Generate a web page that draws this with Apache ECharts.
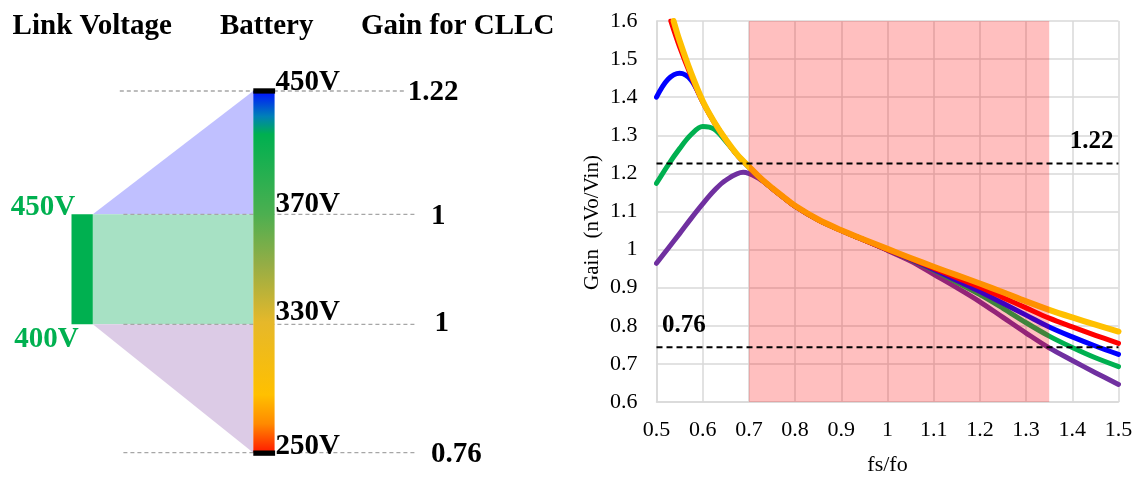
<!DOCTYPE html>
<html>
<head>
<meta charset="utf-8">
<script src="https://cdn.jsdelivr.net/npm/echarts@6/dist/echarts.min.js"></script>
<style>
html,body{margin:0;padding:0;background:#fff;}
#chart{width:1136px;height:481px;}
</style>
</head>
<body>
<div id="chart"></div>
<script>
// ---------- Left schematic: text data ----------
const headings = ['Link Voltage', 'Battery', 'Gain for CLLC'];
const linkVoltages = ['450V', '400V'];
const batteryVoltages = ['450V', '370V', '330V', '250V'];
const cllcGains = ['1.22', '1', '1', '0.76'];

// ---------- Right chart: data ----------
const xTicks = ['0.5','0.6','0.7','0.8','0.9','1','1.1','1.2','1.3','1.4','1.5'];
const yTicks = ['0.6','0.7','0.8','0.9','1','1.1','1.2','1.3','1.4','1.5','1.6'];
const shadeRange = [0.7, 1.35];
const upperGainLine = 1.226;
const lowerGainLine = 0.744;
const upperGainLabel = '1.22';
const lowerGainLabel = '0.76';

const purpleGain = [[0.5,0.964],[0.525,1.003],[0.55,1.042],[0.575,1.082],[0.6,1.12],[0.625,1.155],[0.65,1.182],[0.6875,1.203],[0.725,1.184],[0.75,1.161],[0.775,1.137],[0.8,1.114],[0.85,1.078],[0.9,1.05],[0.95,1.025],[1.0,0.998],[1.05,0.97],[1.1,0.935],[1.15,0.9],[1.2,0.863],[1.25,0.822],[1.3,0.781],[1.35,0.742],[1.4,0.709],[1.45,0.677],[1.5,0.646]];
const greenGain = [[0.5,1.174],[0.525,1.222],[0.55,1.265],[0.575,1.302],[0.6,1.323],[0.625,1.316],[0.65,1.284],[0.675,1.248],[0.7,1.217],[0.725,1.187],[0.75,1.161],[0.775,1.137],[0.8,1.114],[0.85,1.078],[0.9,1.05],[0.95,1.025],[1.0,1.0],[1.05,0.974],[1.1,0.946],[1.15,0.914],[1.2,0.882],[1.25,0.846],[1.3,0.808],[1.35,0.773],[1.4,0.743],[1.45,0.716],[1.5,0.693]];
const blueGain = [[0.5,1.4],[0.525,1.447],[0.55,1.463],[0.575,1.445],[0.6,1.388],[0.625,1.334],[0.65,1.288],[0.675,1.248],[0.7,1.217],[0.725,1.187],[0.75,1.161],[0.775,1.137],[0.8,1.114],[0.85,1.078],[0.9,1.05],[0.95,1.025],[1.0,1.0],[1.05,0.975],[1.1,0.948],[1.15,0.919],[1.2,0.89],[1.25,0.859],[1.3,0.828],[1.35,0.797],[1.4,0.771],[1.45,0.747],[1.5,0.725]];
const redGain = [[0.531,1.6],[0.55,1.532],[0.575,1.455],[0.6,1.388],[0.625,1.334],[0.65,1.288],[0.675,1.248],[0.7,1.217],[0.725,1.187],[0.75,1.161],[0.775,1.137],[0.8,1.114],[0.85,1.078],[0.9,1.05],[0.95,1.025],[1.0,1.0],[1.05,0.976],[1.1,0.951],[1.15,0.926],[1.2,0.901],[1.25,0.874],[1.3,0.847],[1.35,0.82],[1.4,0.797],[1.45,0.775],[1.5,0.754]];
const orangeGain = [[0.537,1.6],[0.55,1.548],[0.575,1.463],[0.6,1.39],[0.625,1.335],[0.65,1.289],[0.675,1.249],[0.7,1.218],[0.725,1.188],[0.75,1.162],[0.775,1.138],[0.8,1.115],[0.85,1.079],[0.9,1.051],[0.95,1.026],[1.0,1.002],[1.05,0.978],[1.1,0.955],[1.15,0.933],[1.2,0.911],[1.25,0.888],[1.3,0.864],[1.35,0.842],[1.4,0.822],[1.45,0.803],[1.5,0.785]];

// ---------- Layout (positions/styles, not data) ----------
const SERIF = '"Liberation Serif", "Times New Roman", serif';
const LAY = {
  headX: [12.6, 220, 361], headY: 26.2, headFont: 29,
  lblFont: 29,
  linkBar: {x1: 71.5, x2: 92.8, y1: 214.3, y2: 324.3},
  battBar: {x1: 253.3, x2: 274.6, y1: 91, y2: 452.7},
  levelY: [91, 214.3, 324.3, 452.7],
  dashX: [[119.8, 406], [123.4, 415], [123.4, 415], [123.4, 415]],
  linkLblPos: [[10.8, 207.9], [14.3, 339.2]],
  battLblX: 275.5, battLblY: [82.9, 204.5, 312.9, 446.2],
  gainLblPos: [[407.7, 92.9], [431, 216.2], [434.6, 323.9], [431, 454.5]]
};

function txt(text, x, y, fill, size, align) {
  return {type: 'text', silent: true, z: 20, style: {text: text, x: x, y: y, fill: fill,
    font: 'bold ' + size + 'px ' + SERIF, textAlign: align || 'left', textVerticalAlign: 'middle'}};
}

const g = [];
const lb = LAY.linkBar, bb = LAY.battBar, ly = LAY.levelY;
g.push({type: 'polygon', silent: true, z: 1, shape: {points: [[lb.x2, ly[1]], [bb.x1, ly[0]], [bb.x1, ly[1]]]}, style: {fill: '#c0c0ff'}});
g.push({type: 'rect', silent: true, z: 1, shape: {x: lb.x2, y: ly[1], width: bb.x1 - lb.x2, height: ly[2] - ly[1]}, style: {fill: '#a7e1c4'}});
g.push({type: 'polygon', silent: true, z: 1, shape: {points: [[lb.x2, ly[2]], [bb.x1, ly[2]], [bb.x1, ly[3]]]}, style: {fill: '#dccbe6'}});
ly.forEach(function (y, i) {
  g.push({type: 'line', silent: true, z: 2, shape: {x1: LAY.dashX[i][0], y1: y, x2: LAY.dashX[i][1], y2: y},
    style: {stroke: '#a6a6a6', lineWidth: 1.3, lineDash: [4, 3]}});
});
g.push({type: 'rect', silent: true, z: 3, shape: {x: lb.x1, y: lb.y1, width: lb.x2 - lb.x1, height: lb.y2 - lb.y1}, style: {fill: '#00b050'}});
g.push({type: 'rect', silent: true, z: 3, shape: {x: bb.x1, y: bb.y1, width: bb.x2 - bb.x1, height: bb.y2 - bb.y1},
  style: {fill: new echarts.graphic.LinearGradient(0, 0, 0, 1, [
    {offset: 0.0, color: '#0010ff'},
    {offset: 0.07, color: '#0080b8'},
    {offset: 0.12, color: '#00b050'},
    {offset: 0.34, color: '#4caf50'},
    {offset: 0.48, color: '#95ad45'},
    {offset: 0.64, color: '#e6b82a'},
    {offset: 0.84, color: '#ffc000'},
    {offset: 0.92, color: '#ff8a00'},
    {offset: 1.0, color: '#ff1a00'}])}});
g.push({type: 'rect', silent: true, z: 4, shape: {x: bb.x1, y: bb.y1 - 2.7, width: bb.x2 - bb.x1 + 0.5, height: 5.3}, style: {fill: '#000'}});
g.push({type: 'rect', silent: true, z: 4, shape: {x: bb.x1, y: bb.y2 - 2.2, width: bb.x2 - bb.x1 + 0.5, height: 5.3}, style: {fill: '#000'}});
headings.forEach(function (h, i) { g.push(txt(h, LAY.headX[i], LAY.headY, '#000', LAY.headFont)); });
linkVoltages.forEach(function (t, i) { g.push(txt(t, LAY.linkLblPos[i][0], LAY.linkLblPos[i][1], '#00b050', LAY.lblFont)); });
batteryVoltages.forEach(function (t, i) { g.push(txt(t, LAY.battLblX, LAY.battLblY[i], '#000', LAY.lblFont)); });
cllcGains.forEach(function (t, i) { g.push(txt(t, LAY.gainLblPos[i][0], LAY.gainLblPos[i][1], '#000', LAY.lblFont)); });

const yMin = +yTicks[0], yMax = +yTicks[yTicks.length - 1];
const xMin = +xTicks[0], xMax = +xTicks[xTicks.length - 1];

function curve(name, data, color, width) {
  return {name: name, type: 'line', data: data, smooth: 0.35, symbol: 'none', z: 3,
    lineStyle: {color: color, width: width, cap: 'round', join: 'round'}, silent: true};
}

const refLabel = {show: true, color: '#000', fontFamily: SERIF, fontWeight: 'bold', fontSize: 25, verticalAlign: 'middle'};

const option = {
  animation: false,
  backgroundColor: '#fff',
  textStyle: {fontFamily: SERIF},
  graphic: {elements: g},
  grid: {left: 656.5, right: 17.5, top: 21, bottom: 78, containLabel: false},
  xAxis: {
    type: 'value', min: xMin, max: xMax, interval: 0.1,
    name: 'fs/fo', nameLocation: 'middle', nameGap: 52,
    nameTextStyle: {fontFamily: SERIF, fontSize: 22, color: '#000'},
    axisLine: {show: true, lineStyle: {color: '#d9d9d9', width: 1.5}},
    axisTick: {show: false},
    axisLabel: {fontFamily: SERIF, fontSize: 22, color: '#000', margin: 17,
      formatter: function (v) { return xTicks[Math.round((v - xMin) * 10)]; }},
    splitLine: {show: true, lineStyle: {color: '#d9d9d9', width: 1.5}}
  },
  yAxis: {
    type: 'value', min: yMin, max: yMax, interval: 0.1,
    name: 'Gain  (nVo/Vin)', nameLocation: 'middle', nameGap: 54,
    nameTextStyle: {fontFamily: SERIF, fontSize: 21, color: '#000', padding: [0, 22, 0, 0]},
    axisLine: {show: true, lineStyle: {color: '#d9d9d9', width: 1.5}},
    axisTick: {show: false},
    axisLabel: {fontFamily: SERIF, fontSize: 22, color: '#000', margin: 19,
      formatter: function (v) { return yTicks[Math.round((v - yMin) * 10)]; }},
    splitLine: {show: true, lineStyle: {color: '#d9d9d9', width: 1.5}}
  },
  series: [
    curve('purple', purpleGain, '#7030a0', 5),
    curve('green', greenGain, '#00b050', 5),
    curve('blue', blueGain, '#0000ff', 5),
    curve('red', redGain, '#ff0000', 5),
    curve('orange', orangeGain, '#ffc000', 6),
    {
      type: 'custom', z: 5, silent: true,
      data: [[shadeRange[0], shadeRange[1]]],
      renderItem: function (params, api) {
        const p0 = api.coord([api.value(0), yMax]);
        const p1 = api.coord([api.value(1), yMin]);
        return {type: 'rect', shape: {x: p0[0], y: p0[1], width: p1[0] - p0[0], height: p1[1] - p0[1]},
          style: {fill: 'rgba(255,0,0,0.25)'}};
      }
    },
    {
      type: 'line', z: 6, silent: true, symbol: 'circle', symbolSize: 0, showSymbol: true,
      lineStyle: {color: '#000', width: 2, type: [6, 4]},
      data: [{value: [xMin, upperGainLine]},
             {value: [xMax, upperGainLine], label: Object.assign({formatter: upperGainLabel, position: [-5, -22], align: 'right'}, refLabel)}]
    },
    {
      type: 'line', z: 6, silent: true, symbol: 'circle', symbolSize: 0, showSymbol: true,
      lineStyle: {color: '#000', width: 2, type: [6, 4]},
      data: [{value: [xMin, lowerGainLine], label: Object.assign({formatter: lowerGainLabel, position: [5.5, -22], align: 'left'}, refLabel)},
             {value: [xMax, lowerGainLine]}]
    }
  ]
};

const chart = echarts.init(document.getElementById('chart'), null, {renderer: 'canvas'});
chart.setOption(option);
</script>
</body>
</html>
